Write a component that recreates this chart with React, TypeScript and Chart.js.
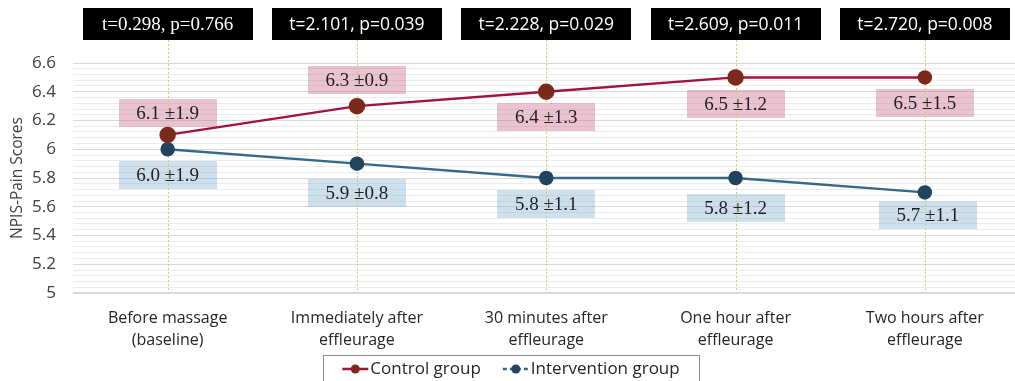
import React, { useEffect, useRef } from 'react';
import { Chart, registerables } from 'chart.js';

Chart.register(...registerables);

// ---- data ----
const categories: string[][] = [
  ['Before massage', '(baseline)'],
  ['Immediately after', 'effleurage'],
  ['30 minutes after', 'effleurage'],
  ['One hour after', 'effleurage'],
  ['Two hours after', 'effleurage'],
];
const controlMeans = [6.1, 6.3, 6.4, 6.5, 6.5];
const controlSD = [1.9, 0.9, 1.3, 1.2, 1.5];
const interventionMeans = [6.0, 5.9, 5.8, 5.8, 5.7];
const interventionSD = [1.9, 0.8, 1.1, 1.2, 1.1];
const tValues = ['0.298', '2.101', '2.228', '2.609', '2.720'];
const pValues = ['0.766', '0.039', '0.029', '0.011', '0.008'];
const yMin = 5;
const yMax = 6.6;
const yMajorStep = 0.2;
const yMinorStep = 0.04;

// ---- styling (label placement relative to points) ----
const labelDy = [
  [-22, -26, 25, 27, 26],
  [26, 29, 26, 30, 23],
];
const labelDx = [
  [0, 0, 0, 0, 0],
  [0, 0, 0, 0, 3],
];
const boxFill = ['rgba(206,112,145,0.42)', 'rgba(118,170,202,0.36)'];
const SANS = '"Open Sans", "Noto Sans", sans-serif';
const SERIF = '"Liberation Serif", "DejaVu Serif", serif';

const isMajor = (v: number) => Math.abs(v / yMajorStep - Math.round(v / yMajorStep)) < 1e-6;

const annotPlugin = {
  id: 'annot',
  beforeDatasetsDraw(chart: any) {
    const { ctx, chartArea } = chart;
    const x = chart.scales.x;
    ctx.save();
    const boxes: any[] = [];
    chart.data.datasets.forEach((ds: any, di: number) => {
      const meta = chart.getDatasetMeta(di);
      meta.data.forEach((pt: any, i: number) => {
        const cx = pt.x + labelDx[di][i];
        const cy = pt.y + labelDy[di][i];
        ctx.fillStyle = boxFill[di];
        ctx.fillRect(Math.round(cx - 49), Math.round(cy - 14), 98, 28);
        boxes.push({ cx, cy, text: `${ds.data[i].toFixed(1)} ±${ds.sd[i].toFixed(1)}` });
      });
    });
    ctx.strokeStyle = '#c9cf86';
    ctx.lineWidth = 1;
    ctx.setLineDash([2, 2]);
    categories.forEach((_, i) => {
      const px = Math.round(x.getPixelForValue(i)) + 0.5;
      ctx.beginPath();
      ctx.moveTo(px, 40);
      ctx.lineTo(px, chartArea.bottom);
      ctx.stroke();
    });
    ctx.setLineDash([]);
    ctx.fillStyle = '#1f1f1f';
    ctx.font = `19px ${SERIF}`;
    ctx.textAlign = 'center';
    ctx.textBaseline = 'middle';
    boxes.forEach((b) => ctx.fillText(b.text, b.cx, b.cy + 1));
    ctx.restore();
  },
  afterDraw(chart: any) {
    const { ctx } = chart;
    const x = chart.scales.x;
    ctx.save();
    categories.forEach((_, i) => {
      const px = x.getPixelForValue(i);
      ctx.fillStyle = '#000000';
      ctx.fillRect(Math.round(px - 85), 8, 170, 32);
      ctx.fillStyle = '#ffffff';
      ctx.textAlign = 'center';
      ctx.textBaseline = 'middle';
      ctx.font = i === 0 ? `19px ${SERIF}` : `17.5px ${SANS}`;
      ctx.fillText(`t=${tValues[i]}, p=${pValues[i]}`, px, i === 0 ? 25.5 : 25);
    });
    ctx.font = `17px ${SANS}`;
    const ds = chart.data.datasets;
    const symW = 26;
    const gap = 2;
    const itemGap = 22;
    const widths = ds.map((d: any) => symW + gap + ctx.measureText(d.label).width);
    const total = widths.reduce((a: number, b: number) => a + b, 0) + itemGap * (ds.length - 1);
    const center = 511;
    const boxW = 376;
    ctx.strokeStyle = '#8c8c8c';
    ctx.lineWidth = 1;
    ctx.strokeRect(Math.round(center - boxW / 2) + 0.5, 355.5, boxW, 40);
    let lx = center - total / 2;
    const ly = 369;
    ds.forEach((d: any, di: number) => {
      ctx.strokeStyle = d.borderColor;
      ctx.lineWidth = 2.5;
      if (di === 1) ctx.setLineDash([4, 3]);
      ctx.beginPath();
      ctx.moveTo(lx, ly);
      ctx.lineTo(lx + symW, ly);
      ctx.stroke();
      ctx.setLineDash([]);
      ctx.fillStyle = d.pointBackgroundColor;
      ctx.beginPath();
      ctx.arc(lx + symW / 2, ly, 4.5, 0, Math.PI * 2);
      ctx.fill();
      ctx.fillStyle = '#262626';
      ctx.textAlign = 'left';
      ctx.textBaseline = 'middle';
      ctx.fillText(d.label, lx + symW + gap, ly);
      lx += widths[di] + itemGap;
    });
    ctx.restore();
  },
};

export default function App() {
  const ref = useRef<HTMLCanvasElement>(null);
  useEffect(() => {
    if (!ref.current) return;
    const chart = new Chart(ref.current, {
      type: 'line',
      data: {
        labels: categories,
        datasets: [
          {
            label: 'Control group',
            data: controlMeans,
            sd: controlSD,
            borderColor: '#a3123f',
            backgroundColor: '#a3123f',
            pointBackgroundColor: '#7c2a1c',
            pointBorderColor: '#7c2a1c',
            pointRadius: [7, 7, 7, 7, 6],
            borderWidth: 2.5,
          } as any,
          {
            label: 'Intervention group',
            data: interventionMeans,
            sd: interventionSD,
            borderColor: '#346a88',
            backgroundColor: '#346a88',
            pointBackgroundColor: '#22455d',
            pointBorderColor: '#22455d',
            pointRadius: [6, 6, 6, 6, 6],
            borderWidth: 2.5,
          } as any,
        ],
      },
      options: {
        responsive: false,
        animation: false,
        layout: { padding: { top: 63, left: 0, right: 0, bottom: 0 } },
        plugins: { legend: { display: false }, tooltip: { enabled: false } },
        scales: {
          x: {
            type: 'category',
            offset: true,
            grid: { display: false },
            border: { display: false },
            ticks: {
              color: '#262626',
              font: { family: SANS, size: 16, lineHeight: 1.4 },
              padding: 6,
              maxRotation: 0,
              autoSkip: false,
            },
            afterFit: (s: any) => {
              s.height = 88;
            },
          },
          y: {
            min: yMin,
            max: yMax,
            border: { display: false },
            grid: {
              drawTicks: false,
              color: (c: any) => (isMajor(c.tick.value) ? '#d9d9d9' : '#ececec'),
              lineWidth: (c: any) => (c.tick.value === yMin ? 2 : 1),
            },
            ticks: {
              stepSize: yMinorStep,
              autoSkip: false,
              padding: 17,
              color: '#404040',
              font: { family: SANS, size: 17 },
              callback: (v: any) => (isMajor(Number(v)) ? String(Math.round(Number(v) * 10) / 10) : ''),
            },
            title: {
              display: true,
              text: 'NPIS-Pain Scores',
              color: '#404040',
              font: { family: SANS, size: 15.5 },
              padding: { top: 8, bottom: 0 },
            },
            afterFit: (s: any) => {
              s.width = 73;
            },
          },
        },
      },
      plugins: [annotPlugin],
    });
    return () => chart.destroy();
  }, []);
  return (
    <div style={{ position: 'fixed', left: 0, top: 0, width: 1015, height: 381, overflow: 'hidden', background: '#fff' }}>
      <canvas ref={ref} width={1029} height={381} style={{ display: 'block' }} />
    </div>
  );
}
